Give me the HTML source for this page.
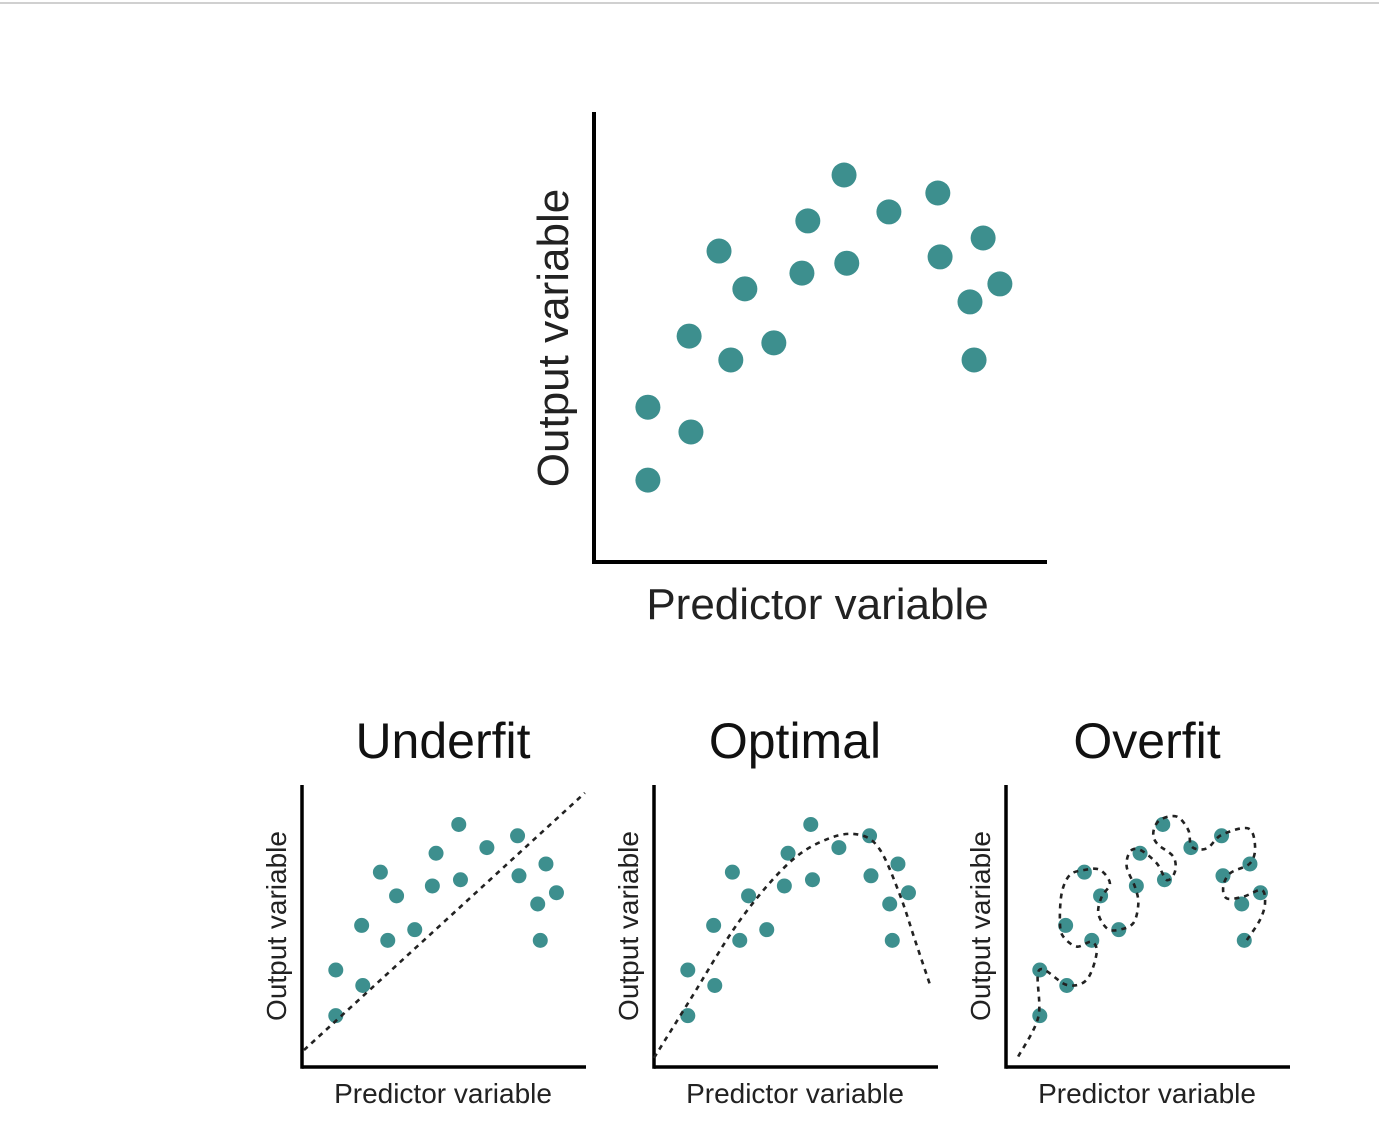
<!DOCTYPE html>
<html><head><meta charset="utf-8"><style>
html,body{margin:0;padding:0;background:#fff;}
svg{display:block;font-family:"Liberation Sans",Arial,sans-serif;}
</style></head><body>
<svg id="chart" width="1379" height="1126" viewBox="0 0 1379 1126">
<line x1="0" y1="3" x2="1379" y2="3" stroke="#d0d0d0" stroke-width="2"/>
</svg>
<script>
const xValues = [11.9,11.9,21.4,21.0,30.2,27.6,33.3,39.7,45.9,47.2,55.2,55.8,65.1,75.9,76.4,85.9,83.0,89.6,83.9];
const yValues = [18.2,34.4,28.9,50.2,44.9,69.1,60.7,48.7,64.2,75.8,86.0,66.4,77.8,82.0,67.8,72.0,57.8,61.8,44.9];
const underfitX = [0.7,99.6];
const underfitY = [6.0,97.2];
const optimalX = [0,12.7,30.3,47.9,62,72.5,79.6,86.6,91.9,97.2];
const optimalY = [3.2,23.8,52.1,72.7,81.2,82.3,77,61,45,29.1];
const overfitX = [4.3,11.4,11.7,21.4,28.4,31.9,30.2,24.9,20.2,19.0,19.6,22.5,27.8,33.1,36.6,33.7,32.5,35.5,39.5,44.8,46.6,45.4,42.5,43.7,47.2,53.1,56.6,59.5,58.9,53.1,51.9,54.2,60.1,64.2,65.4,70.7,75.9,85.3,87.7,85.9,78.9,76.5,77.7,83.6,90.0,91.2,89.4,84.8];
const overfitY = [3.7,17.8,34.4,29.1,30.9,40.3,44.4,42.7,46.2,51.0,61.6,68.1,69.9,69.9,65.1,60.4,54.5,49.2,48.6,51.0,58.0,63.9,71.0,76.4,77.0,72.2,66.3,69.3,74.6,79.3,83.4,87.6,88.8,84.0,78.1,77.5,82.3,84.6,78.1,72.2,68.7,63.9,59.8,60.4,62.8,58.0,52.1,45.0];

const NS='http://www.w3.org/2000/svg';
const svg=document.getElementById('chart');
const TEAL='#3d8f8e';
function mk(tag,attrs,parent){const e=document.createElementNS(NS,tag);for(const k in attrs)e.setAttribute(k,attrs[k]);(parent||svg).appendChild(e);return e;}
function smoothPath(pts){
  let d='M'+pts[0][0]+','+pts[0][1];
  for(let i=0;i<pts.length-1;i++){
    const p0=pts[Math.max(0,i-1)],p1=pts[i],p2=pts[i+1],p3=pts[Math.min(pts.length-1,i+2)];
    const c1x=p1[0]+(p2[0]-p0[0])/6,c1y=p1[1]+(p2[1]-p0[1])/6;
    const c2x=p2[0]-(p3[0]-p1[0])/6,c2y=p2[1]-(p3[1]-p1[1])/6;
    d+=' C'+c1x+','+c1y+' '+c2x+','+c2y+' '+p2[0]+','+p2[1];
  }
  return d;
}
function panel(cfg){
  const g=mk('g',{});
  
  
  const sx=v=>cfg.x0+v/100*cfg.w;
  const sy=v=>cfg.y0-v/100*cfg.h;
  if(cfg.title){
    const t=mk('text',{x:cfg.x0+cfg.w/2-1,y:cfg.y0-cfg.h-27,'text-anchor':'middle','font-size':50,fill:'#111'},g);
    t.textContent=cfg.title;
    
    
  }
  const ya=mk('line',{x1:cfg.x0,y1:cfg.y0-cfg.h,x2:cfg.x0,y2:cfg.y0+cfg.sw/2,stroke:'#000','stroke-width':cfg.sw},g);
  
  
  const xa=mk('line',{x1:cfg.x0,y1:cfg.y0,x2:cfg.x0+cfg.w,y2:cfg.y0,stroke:'#000','stroke-width':cfg.sw},g);
  
  
  const xl=mk('text',{x:cfg.x0+cfg.w/2+cfg.xlShift,y:cfg.y0+cfg.xlOff,'text-anchor':'middle','font-size':cfg.fs,fill:'#222'},g);
  xl.textContent='Predictor variable';
  
  
  const yx=cfg.x0-cfg.ylOff, yy=cfg.y0-cfg.h/2+cfg.ylShift;
  const yl=mk('text',{x:yx,y:yy,'text-anchor':'middle','font-size':cfg.fs,fill:'#222',transform:'rotate(-90 '+yx+' '+yy+')'},g);
  yl.textContent='Output variable';
  
  
  for(let i=0;i<xValues.length;i++){
    const c=mk('circle',{cx:sx(xValues[i]),cy:sy(yValues[i]),r:cfg.r,fill:TEAL},g);
    
    
  }
  if(cfg.fitX){
    const pts=cfg.fitX.map((v,i)=>[sx(v),sy(cfg.fitY[i])]);
    const p=mk('path',{d:smoothPath(pts),fill:'none',stroke:'#222','stroke-width':2.6,'stroke-dasharray':'5,5'},g);
    
    
  }
}
panel({name:'main-scatter',x0:594,y0:562,w:453,h:450,sw:4,r:12.5,fs:44,xlOff:57,xlShift:-3,ylOff:26,ylShift:1});
panel({name:'underfit-panel',title:'Underfit',x0:302,y0:1067,w:284,h:282,sw:3.5,r:7.5,fs:28,xlOff:36,xlShift:-1,ylOff:16,ylShift:0,fitX:underfitX,fitY:underfitY});
panel({name:'optimal-panel',title:'Optimal',x0:654,y0:1067,w:284,h:282,sw:3.5,r:7.5,fs:28,xlOff:36,xlShift:-1,ylOff:16,ylShift:0,fitX:optimalX,fitY:optimalY});
panel({name:'overfit-panel',title:'Overfit',x0:1006,y0:1067,w:284,h:282,sw:3.5,r:7.5,fs:28,xlOff:36,xlShift:-1,ylOff:16,ylShift:0,fitX:overfitX,fitY:overfitY});
</script>
</body></html>
